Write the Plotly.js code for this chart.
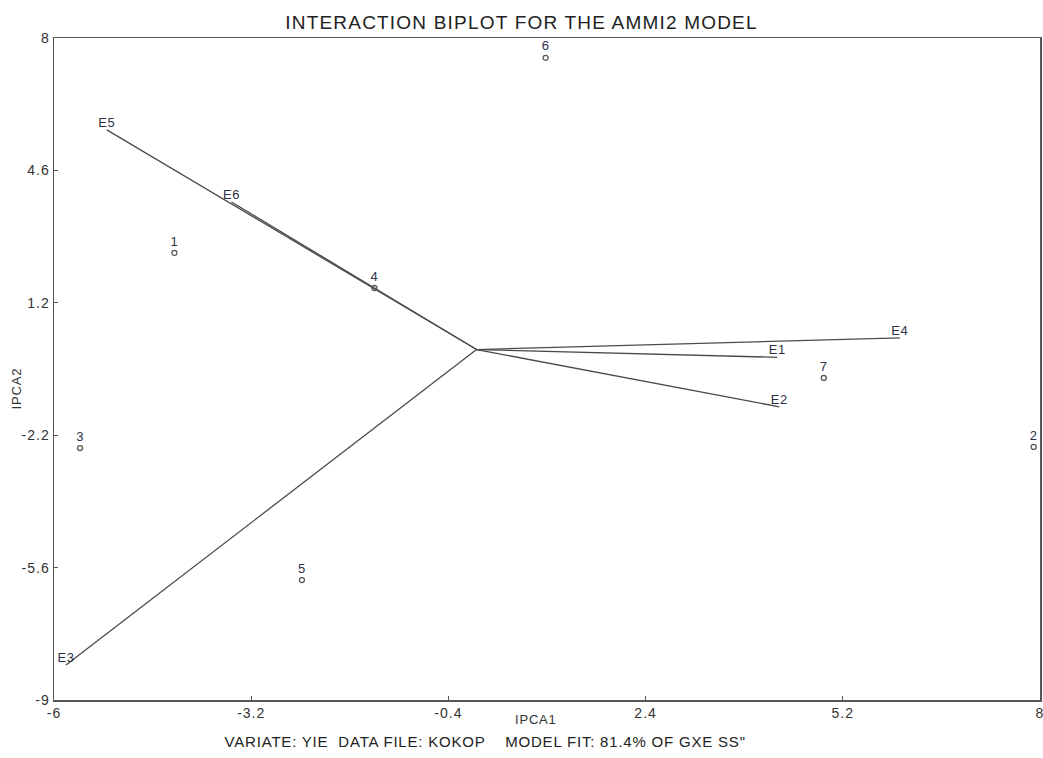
<!DOCTYPE html>
<html>
<head>
<meta charset="utf-8">
<script src="https://cdn.plot.ly/plotly-3.0.1.min.js"></script>
<style>
html,body{margin:0;padding:0;background:#fff;}
#chart{width:1043px;height:758px;}
#chart .xtick text, #chart .ytick text{letter-spacing:1px;}
#chart .gtitle{letter-spacing:1.2px;}
#chart .annotation-text{letter-spacing:0.8px;}
#chart .textpoint text{letter-spacing:0.6px;}
</style>
</head>
<body>
<div id="chart"></div>
<script>
// Environment vectors (IPCA1, IPCA2)
const envNames = ["E1", "E2", "E3", "E4", "E5", "E6"];
const envIPCA1 = [4.27, 4.30, -5.83, 6.01, -5.25, -3.48];
const envIPCA2 = [-0.20, -1.47, -8.10, 0.30, 5.64, 3.79];

// Genotype scores
const genNames = ["1", "2", "3", "4", "5", "6", "7"];
const genIPCA1 = [-4.29, 7.91, -5.63, -1.45, -2.48, 0.98, 4.93];
const genIPCA2 = [2.48, -2.50, -2.53, 1.58, -5.92, 7.49, -0.73];

const xTickVals = [-6, -3.2, -0.4, 2.4, 5.2, 8];
const yTickVals = [-9, -5.6, -2.2, 1.2, 4.6, 8];
const xTickText = ["-6", "-3.2", "-0.4", "2.4", "5.2", "8"];
const yTickText = ["-9", "-5.6", "-2.2", "1.2", "4.6", "8"];

// Build vector segments from origin
const vx = [], vy = [];
envIPCA1.forEach((x, i) => { vx.push(0, x, null); vy.push(0, envIPCA2[i], null); });

const font = "Liberation Sans, Arial, sans-serif";
const labelColor = "#2b3247";

const traces = [
  {
    x: vx, y: vy, mode: "lines", type: "scatter",
    line: {color: "#4a4a4a", width: 1.3}, hoverinfo: "skip", showlegend: false
  },
  {
    x: envIPCA1, y: envIPCA2, text: envNames, mode: "text", type: "scatter",
    textposition: "top center", textfont: {family: font, size: 13, color: labelColor},
    showlegend: false
  },
  {
    x: genIPCA1, y: genIPCA2, text: genNames, mode: "markers+text", type: "scatter",
    textposition: "top center", textfont: {family: font, size: 13, color: labelColor},
    marker: {symbol: "circle-open", size: 5, color: "#555", line: {width: 1.3, color: "#555"}},
    showlegend: false
  }
];

const layout = {
  width: 1043, height: 758,
  margin: {l: 54, r: 3, t: 38, b: 58},
  paper_bgcolor: "#fff", plot_bgcolor: "#fff",
  font: {family: font, size: 12, color: "#333"},
  title: {
    text: "INTERACTION BIPLOT FOR THE AMMI2 MODEL",
    font: {family: font, size: 19, color: "#222"},
    x: 0.5, xanchor: "center", y: 0.971, yanchor: "middle"
  },
  xaxis: {
    range: [-6, 8], tickvals: xTickVals, ticktext: xTickText,
    showgrid: false, zeroline: false,
    showline: true, mirror: true, linecolor: "#555", linewidth: 1.5,
    ticks: "inside", ticklen: 4, tickcolor: "#555",
    ticklabeloverflow: "allow",
    tickfont: {family: font, size: 14, color: "#333"}
  },
  yaxis: {
    range: [-9, 8], tickvals: yTickVals, ticktext: yTickText,
    showgrid: false, zeroline: false,
    showline: true, mirror: true, linecolor: "#555", linewidth: 1.5,
    ticks: "inside", ticklen: 4, tickcolor: "#555",
    ticklabeloverflow: "allow",
    tickfont: {family: font, size: 14, color: "#333"}
  },
  annotations: [
    {
      text: "VARIATE: YIE  DATA FILE: KOKOP    MODEL FIT: 81.4% OF GXE SS\"",
      xref: "paper", yref: "paper", x: 0.437, y: -0.062,
      xanchor: "center", yanchor: "middle", showarrow: false,
      font: {family: font, size: 15, color: "#222"}
    },
    {
      text: "IPCA1",
      xref: "paper", yref: "paper", x: 0.489, y: -0.030,
      xanchor: "center", yanchor: "middle", showarrow: false,
      font: {family: font, size: 13, color: "#333"}
    },
    {
      text: "IPCA2", textangle: -90,
      xref: "paper", yref: "paper", x: -0.038, y: 0.47,
      xanchor: "center", yanchor: "middle", showarrow: false,
      font: {family: font, size: 13, color: "#333"}
    }
  ]
};

Plotly.newPlot("chart", traces, layout, {displayModeBar: false, staticPlot: true});
</script>
</body>
</html>
